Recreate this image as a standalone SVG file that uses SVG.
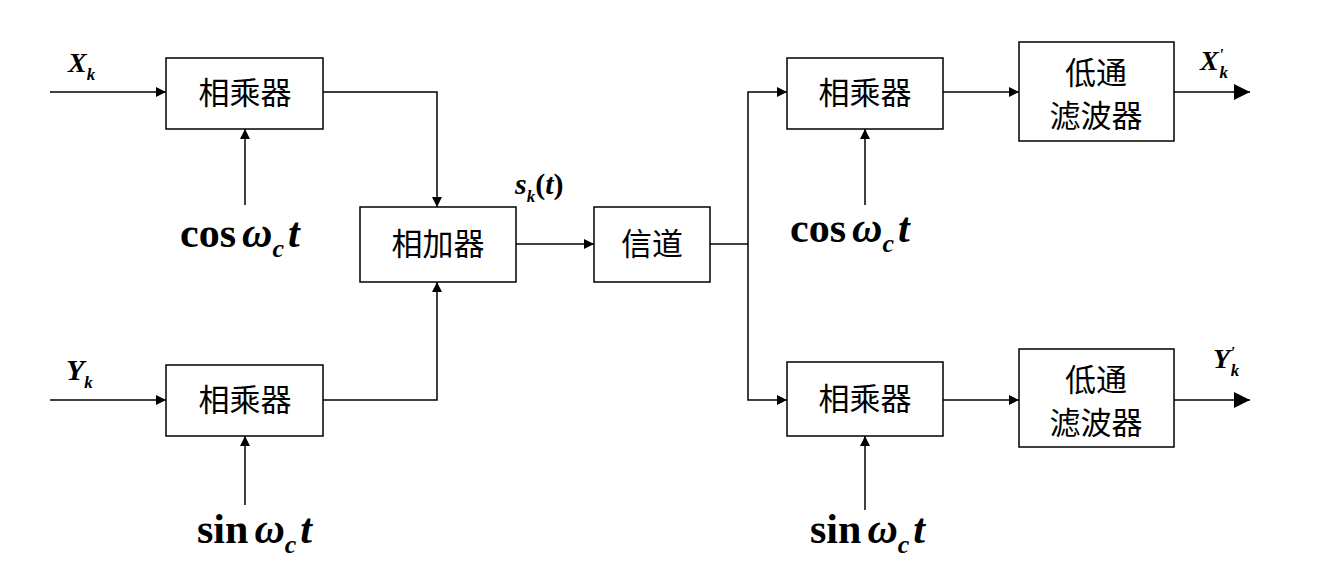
<svg xmlns="http://www.w3.org/2000/svg" width="1333" height="586" viewBox="0 0 1333 586">
<style>
.b{fill:#fff;stroke:#000;stroke-width:1.5}
.c{font-family:"Noto Sans CJK SC",sans-serif;font-size:31px;text-anchor:middle}
.l{fill:none;stroke:#000;stroke-width:1.5}
.m{font-family:"Liberation Serif",serif;font-weight:bold}
.i{font-style:italic}
</style>
<defs>
<marker id="a" viewBox="0 0 10 10" refX="10" refY="5" markerWidth="14" markerHeight="10" markerUnits="userSpaceOnUse" orient="auto"><path d="M0,0L10,5L0,10z"/></marker>
<marker id="A" viewBox="0 0 10 10" refX="10" refY="5" markerWidth="26" markerHeight="16" markerUnits="userSpaceOnUse" orient="auto"><path d="M0,0L10,5L0,10z"/></marker>
</defs>
<rect width="1333" height="586" fill="#fff"/>
<g id="connectors">
<path class="l" d="M50,92H166" marker-end="url(#a)"/>
<path class="l" d="M50,400H166" marker-end="url(#a)"/>
<path class="l" d="M245,205V129" marker-end="url(#a)"/>
<path class="l" d="M245,505V436" marker-end="url(#a)"/>
<path class="l" d="M323,92H437V207" marker-end="url(#a)"/>
<path class="l" d="M323,400H437V282" marker-end="url(#a)"/>
<path class="l" d="M516,244H594" marker-end="url(#a)"/>
<path class="l" d="M710,244H748"/>
<path class="l" d="M748,244V92H787" marker-end="url(#a)"/>
<path class="l" d="M748,244V400H787" marker-end="url(#a)"/>
<path class="l" d="M865,205V129" marker-end="url(#a)"/>
<path class="l" d="M865,510V436" marker-end="url(#a)"/>
<path class="l" d="M943,92H1019" marker-end="url(#a)"/>
<path class="l" d="M943,400H1019" marker-end="url(#a)"/>
<path class="l" d="M1174,92H1250" marker-end="url(#A)"/>
<path class="l" d="M1174,400H1250" marker-end="url(#A)"/>
</g>
<g id="m1"><rect class="b" x="166" y="58" width="157" height="71"/><text class="c" x="245" y="104">相乘器</text></g>
<g id="m2"><rect class="b" x="166" y="365" width="157" height="71"/><text class="c" x="245" y="411">相乘器</text></g>
<g id="add"><rect class="b" x="360" y="207" width="156" height="75"/><text class="c" x="438" y="255">相加器</text></g>
<g id="ch"><rect class="b" x="594" y="207" width="116" height="75"/><text class="c" x="652" y="255">信道</text></g>
<g id="m3"><rect class="b" x="787" y="58" width="156" height="71"/><text class="c" x="865" y="104">相乘器</text></g>
<g id="m4"><rect class="b" x="787" y="362" width="156" height="74"/><text class="c" x="865" y="410">相乘器</text></g>
<g id="lpf1"><rect class="b" x="1019" y="42" width="155" height="99"/><text class="c" x="1096" y="84">低通</text><text class="c" x="1096" y="127">滤波器</text></g>
<g id="lpf2"><rect class="b" x="1019" y="349" width="155" height="98"/><text class="c" x="1096" y="391">低通</text><text class="c" x="1096" y="434">滤波器</text></g>
<g id="labels" class="m">
<text x="68" y="72" font-size="28" class="i">X<tspan font-size="17" dy="8">k</tspan></text>
<text x="66" y="380" font-size="30" class="i">Y<tspan font-size="17" dy="8">k</tspan></text>
<text x="180" y="247" font-size="42">cos<tspan class="i" dx="6">ω</tspan><tspan class="i" font-size="26" dy="10">c</tspan><tspan class="i" dy="-10" dx="4">t</tspan></text>
<text x="197" y="543" font-size="42">sin<tspan class="i" dx="6">ω</tspan><tspan class="i" font-size="26" dy="10">c</tspan><tspan class="i" dy="-10" dx="4">t</tspan></text>
<text x="515" y="194" font-size="30" class="i">s<tspan font-size="17" dy="8">k</tspan><tspan dy="-8" font-style="normal">(</tspan>t<tspan font-style="normal">)</tspan></text>
<text x="790" y="242" font-size="42">cos<tspan class="i" dx="6">ω</tspan><tspan class="i" font-size="26" dy="10">c</tspan><tspan class="i" dy="-10" dx="4">t</tspan></text>
<text x="810" y="543" font-size="42">sin<tspan class="i" dx="6">ω</tspan><tspan class="i" font-size="26" dy="10">c</tspan><tspan class="i" dy="-10" dx="4">t</tspan></text>
<text x="1200" y="70" font-size="28" class="i">X<tspan font-size="17" dy="-10">'</tspan><tspan font-size="17" dy="18" dx="-4">k</tspan></text>
<text x="1213" y="368" font-size="28" class="i">Y<tspan font-size="17" dy="-10">'</tspan><tspan font-size="17" dy="18" dx="-4">k</tspan></text>
</g>
</svg>
